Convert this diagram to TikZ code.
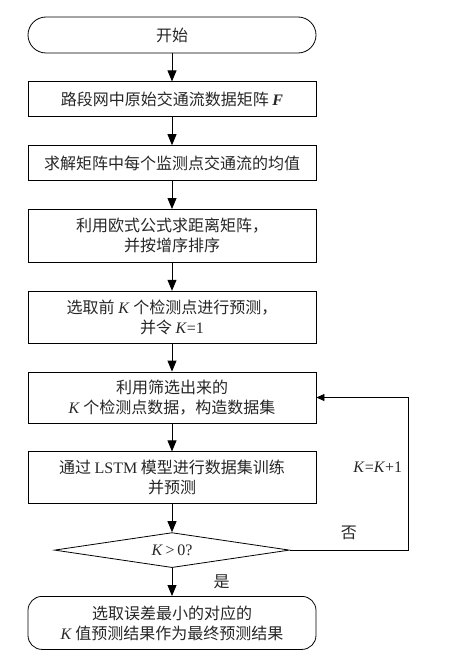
\documentclass[tikz,border=0pt]{standalone}
\usepackage{fontspec}
\setmainfont{Liberation Serif}
\newfontfamily\cjk{Noto Sans CJK SC}
\usetikzlibrary{shapes.geometric, arrows.meta, positioning}
\newcommand{\vK}{\textrm{\textit{K}}}
\newcommand{\lat}[1]{\textrm{#1}}
\tikzset{
  procbox/.style={rectangle, draw=black, line width=0.8pt, minimum width=288pt,
              minimum height=#1, inner sep=2pt, align=center},
  procbox/.default=35pt,
  startbox/.style={rectangle, rounded corners=#1, draw=black, line width=0.8pt,
              minimum width=288pt, minimum height=36pt, inner sep=2pt, align=center},
  startbox/.default=18pt,
  decbox/.style={diamond, draw=black, line width=0.8pt, aspect=6.7,
              minimum width=235pt, minimum height=35pt, inner sep=0pt},
  arrow/.style={-{Triangle[width=9pt,length=11pt]}, line width=0.8pt, color=black},
  backarrow/.style={-{Triangle[width=7pt,length=8pt]}, line width=0.8pt, color=black},
}

\begin{document}
\begin{tikzpicture}[node distance=28pt, every node/.style={font=\cjk\fontsize{16}{20}\selectfont, align=center, text=black!85}]
  \useasboundingbox (0,0) rectangle (450pt,-658pt);

  \node[startbox] (start) at (172pt,-35pt) {开始};
  \node[procbox, below=of start] (raw) {路段网中原始交通流数据矩阵 \textrm{\textbf{\textit{F}}}};
  \node[procbox, below=of raw] (mean) {求解矩阵中每个监测点交通流的均值};
  \node[procbox=53pt, below=of mean] (dist) {利用欧式公式求距离矩阵，\\并按增序排序};
  \node[procbox=52pt, below=of dist] (pick) {选取前 \vK{} 个检测点进行预测，\\并令 \vK\lat{=1}};
  \node[procbox=51pt, below=of pick] (filt) {利用筛选出来的\\\vK{} 个检测点数据，构造数据集};
  \node[procbox=52pt, below=of filt] (lstm) {通过 \lat{LSTM} 模型进行数据集训练\\并预测};
  \node[decbox, below=of lstm] (dec) {\vK\lat{\,>\,0?}};
  \node[startbox=14pt, minimum height=53pt, below=of dec] (res)
        {选取误差最小的对应的\\\vK{} 值预测结果作为最终预测结果};

  \coordinate (loop) at ([xshift=118pt]dec.east);

  \draw[arrow] (start) -- (raw);
  \draw[arrow] (raw) -- (mean);
  \draw[arrow] (mean) -- (dist);
  \draw[arrow] (dist) -- (pick);
  \draw[arrow] (pick) -- (filt);
  \draw[arrow] (filt) -- (lstm);
  \draw[arrow] (lstm) -- (dec);
  \draw[arrow] (dec) -- node[right=38pt]{是} (res);
  \draw[backarrow] (dec.east) -- node[above=7pt]{否} (loop)
        |- node[left=2pt, pos=0.27]{\vK\lat{=}\vK\lat{+1}} (filt.east);
\end{tikzpicture}
\end{document}
